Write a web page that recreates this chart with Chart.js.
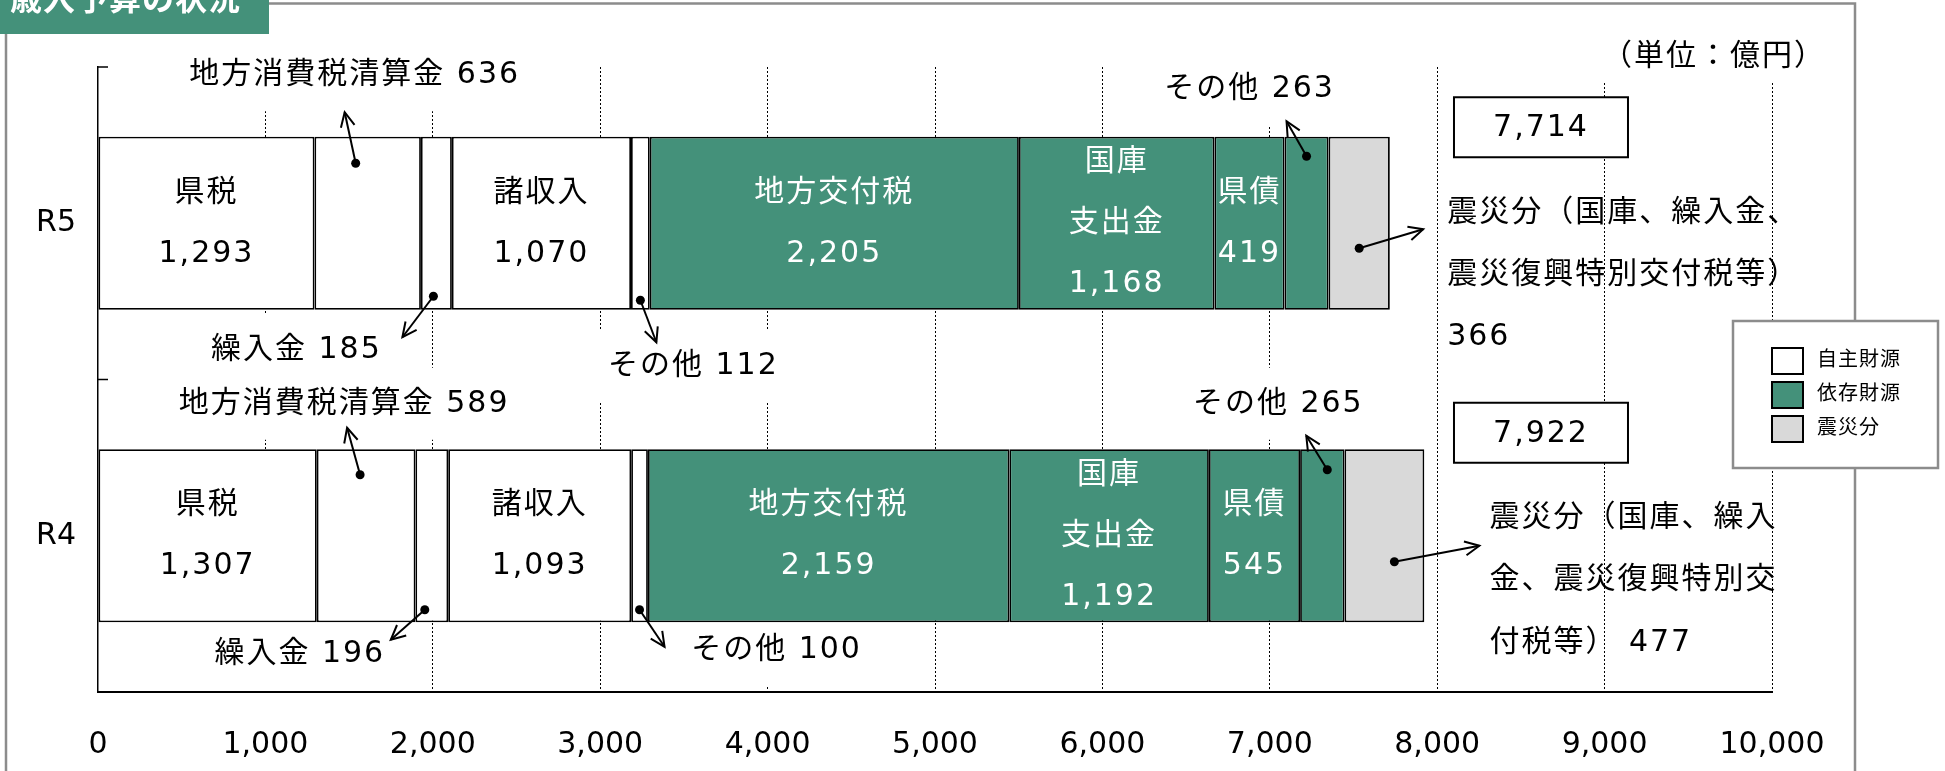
<!DOCTYPE html>
<html lang="ja">
<head>
<meta charset="utf-8">
<title>歳入予算の状況</title>
<script src="https://cdn.jsdelivr.net/npm/chart.js@4.4.1/dist/chart.umd.min.js"></script>
<style>
  html, body { margin: 0; padding: 0; background: #fff; }
  #wrap { width: 1945px; height: 771px; position: relative; }
</style>
</head>
<body>
<div id="wrap"><canvas id="chart" width="1945" height="771"></canvas></div>
<script>
const FONT = '"DejaVu Sans", "Noto Sans CJK JP", sans-serif';

// ---- data (億円) ----
const categories = ['R5', 'R4'];
const itemNames  = ['県税', '地方消費税清算金', '繰入金', '諸収入', 'その他', '地方交付税', '国庫支出金', '県債', 'その他', '震災分'];
const itemGroups = ['自主財源', '自主財源', '自主財源', '自主財源', '自主財源', '依存財源', '依存財源', '依存財源', '依存財源', '震災分'];
const valuesR5   = [1293, 636, 185, 1070, 112, 2205, 1168, 419, 263, 366];
const valuesR4   = [1307, 589, 196, 1093, 100, 2159, 1192, 545, 265, 477];
const totals     = [7714, 7922];
const groupNames = ['自主財源', '依存財源', '震災分'];
const xMax = 10000;
const xStep = 1000;

// text written inside the segments (value is added as the last line)
const innerLabels = [['県税'], null, null, ['諸収入'], null, ['地方交付税'], ['国庫', '支出金'], ['県債'], null, null];
// 震災分 note, value is appended to the last line
const disasterNote = [
  ['震災分（国庫、繰入金、', '震災復興特別交付税等）', ''],
  ['震災分（国庫、繰入', '金、震災復興特別交', '付税等） ']
];

// ---- styling / placement ----
const groupColors = { '自主財源': '#ffffff', '依存財源': '#44917a', '震災分': '#d9d9d9' };
const groupText   = { '自主財源': '#000000', '依存財源': '#ffffff', '震災分': '#000000' };

// px offsets relative to segment centre (x) and bar centre (y)
const callouts = [
  { cat: 0, item: 1, dot: [-12, -60], head: [-11, -51], text: [-13, -148] },
  { cat: 0, item: 2, dot: [-3, 73],   head: [-31, 41],  text: [-140, 127] },
  { cat: 0, item: 4, dot: [0, 77],    head: [16, 42],   text: [53, 143] },
  { cat: 0, item: 8, dot: [0, -67],   head: [-20, -35], text: [-57, -134] },
  { cat: 1, item: 1, dot: [-6, -61],  head: [-13, -47], text: [-22, -132] },
  { cat: 1, item: 2, dot: [-7, 74],   head: [-34, 30],  text: [-132, 118] },
  { cat: 1, item: 4, dot: [0, 74],    head: [25, 37],   text: [137, 114] },
  { cat: 1, item: 8, dot: [5, -66],   head: [-21, -34], text: [-44, -132] }
];
const notes = [
  { cat: 0, dot: [0, 25],  head: [64, -19], textX: 88,  lines: [-10, 52, 114] },
  { cat: 1, dot: [10, 26], head: [85, -16], textX: 105, lines: [-18, 44, 107] }
];
const totalBoxValue = 8620;   // x position (axis units) of the total boxes
const totalBoxDy = [-96, -103];

const fmt = v => v.toLocaleString('en-US');

function setFont(ctx, size, weight) {
  ctx.font = (weight || 'normal') + ' ' + size + 'px ' + FONT;
}

function arrow(ctx, x0, y0, x1, y1) {
  ctx.save();
  ctx.strokeStyle = '#000';
  ctx.fillStyle = '#000';
  ctx.lineWidth = 2;
  ctx.beginPath();
  ctx.moveTo(x0, y0);
  ctx.lineTo(x1, y1);
  ctx.stroke();
  ctx.beginPath();
  ctx.arc(x0, y0, 4.5, 0, Math.PI * 2);
  ctx.fill();
  const a = Math.atan2(y1 - y0, x1 - x0), L = 16, w = 0.45;
  ctx.beginPath();
  ctx.moveTo(x1 - L * Math.cos(a - w), y1 - L * Math.sin(a - w));
  ctx.lineTo(x1, y1);
  ctx.lineTo(x1 - L * Math.cos(a + w), y1 - L * Math.sin(a + w));
  ctx.stroke();
  ctx.restore();
}

function segment(chart, item, cat) {
  const el = chart.getDatasetMeta(item).data[cat];
  return { cx: (el.x + el.base) / 2, cy: el.y };
}

function calloutText(co) {
  const rows = [valuesR5, valuesR4];
  return itemNames[co.item] + ' ' + fmt(rows[co.cat][co.item]);
}

const annotations = {
  id: 'annotations',
  // white text boxes hide the grid but stay under the bars
  beforeDatasetsDraw(chart) {
    const ctx = chart.ctx;
    ctx.save();
    setFont(ctx, 30);
    ctx.letterSpacing = '2px';
    ctx.fillStyle = '#fff';
    callouts.forEach(co => {
      const s = segment(chart, co.item, co.cat);
      const w = ctx.measureText(calloutText(co)).width;
      const cx = s.cx + co.text[0], cy = s.cy + co.text[1];
      ctx.fillRect(cx - w / 2 - 10, cy - 36, w + 20, 72);
    });
    ctx.restore();
  },
  afterDatasetsDraw(chart) {
    const ctx = chart.ctx;
    const xs = chart.scales.x;
    const ys = chart.scales.y;
    const rows = [valuesR5, valuesR4];
    ctx.save();
    ctx.textBaseline = 'middle';
    ctx.letterSpacing = '2px';

    // category tick marks on the left axis (inward)
    const step = (ys.bottom - ys.top) / categories.length;
    ctx.strokeStyle = '#000';
    ctx.lineWidth = 1.5;
    for (let k = 0; k < categories.length; k++) {
      const ty = ys.top + k * step;
      ctx.beginPath();
      ctx.moveTo(xs.left, ty);
      ctx.lineTo(xs.left + 10, ty);
      ctx.stroke();
    }

    // labels inside the segments
    setFont(ctx, 30);
    ctx.textAlign = 'center';
    categories.forEach((c, cat) => {
      innerLabels.forEach((lab, i) => {
        if (!lab) return;
        const s = segment(chart, i, cat);
        const lines = lab.concat([fmt(rows[cat][i])]);
        const sp = 61;
        ctx.fillStyle = groupText[itemGroups[i]];
        lines.forEach((ln, j) => {
          ctx.fillText(ln, s.cx, s.cy + (j - (lines.length - 1) / 2) * sp);
        });
      });
    });

    // callouts with arrows
    ctx.fillStyle = '#000';
    callouts.forEach(co => {
      const s = segment(chart, co.item, co.cat);
      ctx.fillText(calloutText(co), s.cx + co.text[0], s.cy + co.text[1]);
      const dx = s.cx + co.dot[0], dy = s.cy + co.dot[1];
      arrow(ctx, dx, dy, dx + co.head[0], dy + co.head[1]);
    });

    // 震災分 notes
    notes.forEach(n => {
      const s = segment(chart, 9, n.cat);
      const dx = s.cx + n.dot[0], dy = s.cy + n.dot[1];
      arrow(ctx, dx, dy, dx + n.head[0], dy + n.head[1]);
      const lines = disasterNote[n.cat].slice();
      lines[lines.length - 1] += fmt(rows[n.cat][9]);
      ctx.textAlign = 'left';
      ctx.fillStyle = '#000';
      lines.forEach((ln, j) => ctx.fillText(ln, s.cx + n.textX, s.cy + n.lines[j]));
    });

    // total boxes
    ctx.textAlign = 'center';
    totals.forEach((t, cat) => {
      const cy = ys.getPixelForValue(cat) + totalBoxDy[cat];
      const cx = xs.getPixelForValue(totalBoxValue);
      ctx.fillStyle = '#fff';
      ctx.fillRect(cx - 87, cy - 30, 174, 60);
      ctx.strokeStyle = '#000';
      ctx.lineWidth = 2;
      ctx.strokeRect(cx - 87, cy - 30, 174, 60);
      ctx.fillStyle = '#000';
      ctx.fillText(fmt(t), cx, cy + 1);
    });

    // unit
    ctx.textAlign = 'right';
    const unit = '（単位：億円）';
    const uw = ctx.measureText(unit).width;
    ctx.fillStyle = '#fff';
    ctx.fillRect(1826 - uw - 6, 40, uw + 12, 42);
    ctx.fillStyle = '#000';
    ctx.fillText(unit, 1826, 57);

    // outer frame
    ctx.strokeStyle = '#8c8c8c';
    ctx.lineWidth = 2.5;
    ctx.beginPath();
    ctx.moveTo(268, 3.5);
    ctx.lineTo(1855, 3.5);
    ctx.lineTo(1855, 771);
    ctx.moveTo(6, 34);
    ctx.lineTo(6, 771);
    ctx.stroke();

    // legend
    ctx.fillStyle = '#fff';
    ctx.fillRect(1733, 321, 205, 147);
    ctx.strokeStyle = '#8c8c8c';
    ctx.lineWidth = 2.5;
    ctx.strokeRect(1733, 321, 205, 147);
    setFont(ctx, 20);
    ctx.letterSpacing = '1px';
    ctx.textAlign = 'left';
    groupNames.forEach((g, k) => {
      const top = 348 + k * 34;
      ctx.fillStyle = groupColors[g];
      ctx.fillRect(1772, top, 31, 26);
      ctx.strokeStyle = '#000';
      ctx.lineWidth = 2;
      ctx.strokeRect(1772, top, 31, 26);
      ctx.fillStyle = '#000';
      ctx.fillText(g, 1817, top + 13);
    });

    // title tab
    ctx.fillStyle = '#44917a';
    ctx.fillRect(0, 0, 269, 34);
    setFont(ctx, 32, 'bold');
    ctx.fillStyle = '#fff';
    ctx.textAlign = 'left';
    ctx.fillText('歳入予算の状況', 10, 2);
    ctx.restore();
  }
};

const datasets = itemNames.map((name, i) => ({
  label: name,
  data: [valuesR5[i], valuesR4[i]],
  backgroundColor: groupColors[itemGroups[i]],
  borderColor: '#000',
  borderWidth: 1.8,
  borderSkipped: false,
  categoryPercentage: 0.554,
  barPercentage: 1
}));

new Chart(document.getElementById('chart'), {
  type: 'bar',
  data: { labels: categories, datasets: datasets },
  options: {
    indexAxis: 'y',
    responsive: false,
    animation: false,
    devicePixelRatio: 1,
    layout: { padding: { left: 0, right: 173, top: 67, bottom: 0 } },
    plugins: { legend: { display: false }, tooltip: { enabled: false } },
    scales: {
      x: {
        stacked: true,
        min: 0,
        max: xMax,
        ticks: {
          stepSize: xStep,
          color: '#000',
          font: { family: FONT, size: 30 },
          padding: 35,
          maxRotation: 0,
          autoSkip: false,
          callback: v => fmt(v)
        },
        grid: {
          color: c => (c.tick && c.tick.value === 0) ? 'rgba(0,0,0,0)' : '#000',
          lineWidth: 1,
          drawTicks: false
        },
        border: { display: true, color: '#000', width: 2, dash: [2, 2] },
        afterFit: s => { s.height = 79; }
      },
      y: {
        stacked: true,
        ticks: { color: '#000', font: { family: FONT, size: 30 }, padding: 22 },
        grid: { display: false, drawTicks: false },
        border: { display: true, color: '#000', width: 1.5 },
        afterFit: s => { s.width = 98; }
      }
    }
  },
  plugins: [annotations]
});
</script>
</body>
</html>
